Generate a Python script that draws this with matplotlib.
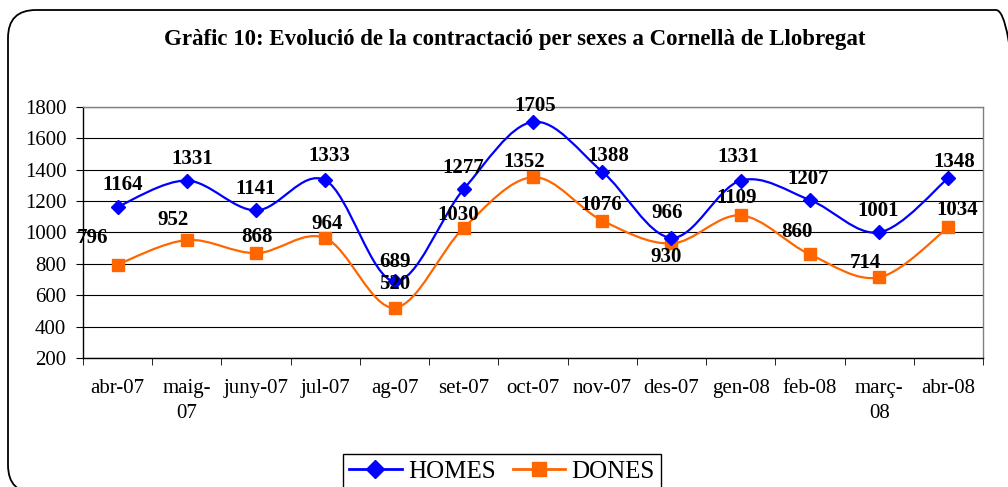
import matplotlib
matplotlib.use("Agg")
import matplotlib.pyplot as plt
import numpy as np
from matplotlib.path import Path
from matplotlib.patches import PathPatch, FancyBboxPatch
from matplotlib.lines import Line2D
from matplotlib.transforms import IdentityTransform, offset_copy

months = ["abr-07", "maig-\n07", "juny-07", "jul-07", "ag-07", "set-07", "oct-07",
          "nov-07", "des-07", "gen-08", "feb-08", "març-\n08", "abr-08"]
homes = [1164, 1331, 1141, 1333, 689, 1277, 1705, 1388, 966, 1331, 1207, 1001, 1348]
dones = [796, 952, 868, 964, 520, 1030, 1352, 1076, 930, 1109, 860, 714, 1034]

# label offsets in pixels (dx right, dy down) from each point
homes_off = [(5, -22), (5, -22), (-1, -21), (4, -24), (0, -19), (-1, -21), (2, -16),
             (6, -16), (-4, -25), (-2, -24), (-2, -21), (-1, -21), (6, -16)]
dones_off = [(-25, -27), (-14, -20), (1, -16), (2, -14), (0, -24), (-6, -13), (-9, -15),
             (-1, -16), (-5, 14), (-4, -17), (-13, -22), (-14, -14), (9, -17)]

BLUE = "#0000FF"
ORANGE = "#FF6600"
SERIF = "Liberation Serif"

plt.rcParams["font.family"] = SERIF


def smooth_path(xs, ys):
    # Catmull-Rom style bezier like the spreadsheet "smoothed line"
    pts = np.column_stack([xs, ys]).astype(float)
    n = len(pts)
    verts = [pts[0]]
    codes = [Path.MOVETO]
    for i in range(n - 1):
        p0 = pts[i - 1] if i > 0 else pts[i]
        p1 = pts[i]
        p2 = pts[i + 1]
        p3 = pts[i + 2] if i + 2 < n else pts[i + 1]
        c1 = p1 + (p2 - p0) / 6.0
        c2 = p2 - (p3 - p1) / 6.0
        verts += [c1, c2, p2]
        codes += [Path.CURVE4] * 3
    return Path(verts, codes)


fig = plt.figure(figsize=(10.08, 4.87), dpi=100)
ax = fig.add_axes([83 / 1008, 1 - 358 / 487, 900 / 1008, 251 / 487])

x = np.arange(len(months))
for vals, color, marker, ms, offs in [
    (dones, ORANGE, "s", 9, dones_off),
    (homes, BLUE, "D", 7.5, homes_off),
]:
    ax.add_patch(PathPatch(smooth_path(x, vals), facecolor="none", edgecolor=color,
                           lw=1.6, zorder=3))
    ax.plot(x, vals, linestyle="none", marker=marker, color=color, ms=ms, zorder=4)
    for xi, v, (dx, dy) in zip(x, vals, offs):
        tr = offset_copy(ax.transData, fig=fig, x=dx, y=-dy, units="dots")
        ax.text(xi, v, str(v), transform=tr, ha="center", va="center",
                fontsize=15, fontweight="bold", zorder=5)

ax.set_xlim(-0.5, len(months) - 0.5)
ax.set_ylim(200, 1800)
ax.set_yticks(range(200, 1801, 200))
ax.yaxis.grid(True, color="black", lw=0.8)
ax.set_axisbelow(True)

ax.set_xticks(x)
ax.set_xticklabels(months, fontsize=15, linespacing=1.45)
ax.set_xticks(np.arange(-0.5, len(months)), minor=True)
ax.tick_params(axis="x", which="major", length=0, pad=15)
ax.tick_params(axis="x", which="minor", length=5, direction="out", color="black")
ax.tick_params(axis="y", length=5, direction="out", pad=7, labelsize=15)

for side in ["left", "bottom"]:
    ax.spines[side].set_color("black")
    ax.spines[side].set_linewidth(1.0)
for side in ["top", "right"]:
    ax.spines[side].set_color("#808080")
    ax.spines[side].set_linewidth(1.0)

fig.text(515 / 1008, 1 - 40 / 487, "Gràfic 10: Evolució de la contractació per sexes a Cornellà de Llobregat",
         ha="center", va="center", fontsize=16.5, fontweight="bold")

handles = [
    Line2D([], [], color=BLUE, lw=2, marker="D", ms=9),
    Line2D([], [], color=ORANGE, lw=2, marker="s", ms=10),
]
leg = fig.legend(handles, ["HOMES", "DONES"], loc="upper center",
                 bbox_to_anchor=(502 / 1008, 1 - 454 / 487), ncol=2, fontsize=18,
                 frameon=True, fancybox=False, edgecolor="black", framealpha=1,
                 handlelength=2.1, handletextpad=0.25, columnspacing=0.7,
                 borderpad=0.25, borderaxespad=0)
leg.get_frame().set_linewidth(1.0)

# rounded outer border, drawn in pixel coordinates
box = FancyBboxPatch((8, -6), 1016, 487 - 10 + 6, boxstyle="round,pad=0,rounding_size=28",
                     transform=IdentityTransform(), facecolor="none", edgecolor="black",
                     lw=1.3)
fig.add_artist(box)

fig.savefig("out.png", dpi=100)
